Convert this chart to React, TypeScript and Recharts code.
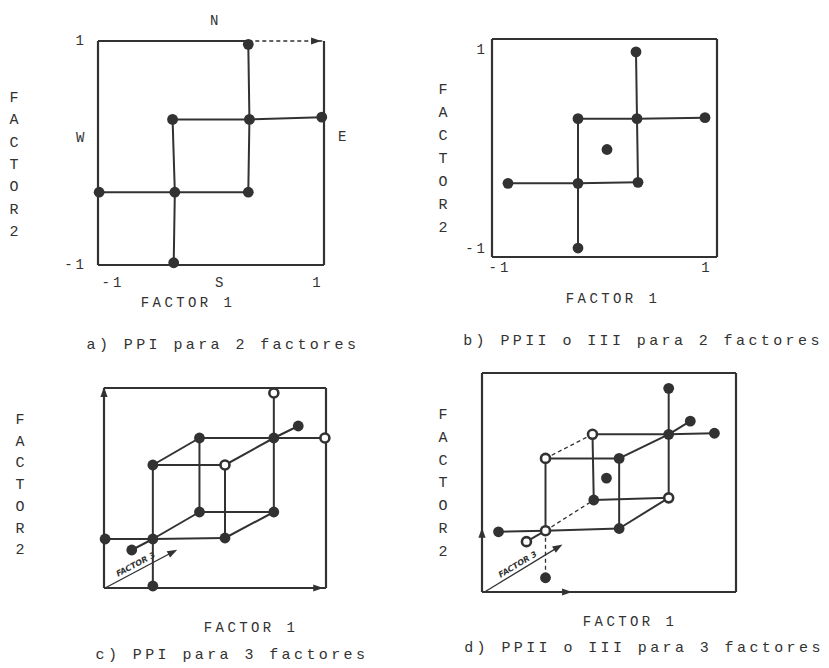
import React from "react";
import { ScatterChart, Scatter, XAxis, YAxis, ReferenceLine } from "recharts";

type XY = [number, number];
type Pair = [number, number];

const INK = "#323232";
const typeFont = '"Liberation Mono", "DejaVu Sans Mono", monospace';

// a) PPI para 2 factores
const designA: XY[] = [
  [0.33, 0.97], [-0.34, 0.3], [0.34, 0.3], [0.98, 0.32],
  [-0.99, -0.35], [-0.32, -0.35], [0.33, -0.35], [-0.33, -0.98],
];
const edgesA: Pair[] = [[5, 6], [6, 2], [2, 1], [1, 5], [4, 5], [5, 7], [2, 0], [2, 3]];
const frameA: { from: XY; to: XY; dash?: boolean }[] = [
  { from: [-1, -1], to: [-1, 1] },
  { from: [-1, 1], to: [0.33, 1] },
  { from: [0.33, 1], to: [1, 1], dash: true },
  { from: [1, 1], to: [1, -1] },
  { from: [1, -1], to: [-1, -1] },
];
const arrowsA = [{ x: 0.93, y: 1, angle: 0 }];
const ticksA = [-1, 1];

// b) PPII o III para 2 factores
const designB: XY[] = [
  [0.29, 0.98], [-0.29, 0.31], [0.3, 0.31], [0.98, 0.32], [0.0, 0.0],
  [-0.99, -0.34], [-0.29, -0.34], [0.31, -0.33], [-0.29, -0.99],
];
const edgesB: Pair[] = [[6, 7], [7, 2], [2, 1], [1, 6], [5, 6], [6, 8], [2, 0], [2, 3]];
const ticksB = [-1, 1];
const xDomainB: XY = [-1.15, 1.1];
const yDomainB: XY = [-1.08, 1.11];

// c) PPI para 3 factores (cubo en perspectiva)
const designC: XY[] = [
  [0.53, 0.95], [-0.14, 0.5], [0.53, 0.5], [0.75, 0.62], [0.99, 0.5],
  [-0.56, 0.23], [0.09, 0.23], [-0.14, -0.24], [0.53, -0.24],
  [-0.99, -0.51], [-0.56, -0.51], [0.09, -0.5], [-0.75, -0.62], [-0.56, -0.98],
];
const openC = [0, 4, 6];
const edgesC: Pair[] = [
  [10, 11], [11, 6], [6, 5], [5, 10],
  [7, 8], [8, 2], [2, 1], [1, 7],
  [5, 1], [6, 2], [11, 8], [10, 7],
  [9, 10], [10, 13], [12, 10], [2, 0], [2, 4], [2, 3],
];
const factor3C: XY[] = [[-0.99, -1], [-0.38, -0.64]];
const arrowsC = [
  { x: -1, y: 0.96, angle: -90 },
  { x: 0.93, y: -1, angle: 0 },
  { x: -0.38, y: -0.64, angle: -28 },
];

// d) PPII o III para 3 factores
const designD: XY[] = [
  [0.47, 0.86], [-0.13, 0.44], [0.47, 0.44], [0.64, 0.56], [0.83, 0.45],
  [-0.5, 0.22], [0.08, 0.22], [-0.12, -0.16], [0.47, -0.14],
  [-0.87, -0.45], [-0.5, -0.44], [0.08, -0.42], [-0.65, -0.54], [-0.5, -0.87],
  [-0.02, 0.04],
];
const openD = [1, 5, 8, 10, 12];
const edgesD: Pair[] = [
  [10, 11], [11, 6], [6, 5], [5, 10],
  [7, 8], [8, 2], [2, 1], [1, 7],
  [6, 2], [11, 8],
  [9, 10], [12, 10], [2, 0], [2, 4], [2, 3],
];
const dashedD: Pair[] = [[5, 1], [10, 7], [10, 13]];
const factor3D: XY[] = [[-0.98, -1], [-0.4, -0.59]];
const arrowsD = [
  { x: -1, y: -0.46, angle: -90 },
  { x: -0.33, y: -1, angle: 0 },
  { x: -0.4, y: -0.59, angle: -31 },
];

const yTitle = ["F", "A", "C", "T", "O", "R", "2"];

type Seg = { from: XY; to: XY; dash?: boolean; width?: number };
type Region = { x: number; y: number; w: number; h: number };
type Box = { l: number; t: number; r: number; b: number };

const AXIS_W = 40;
const AXIS_H = 30;

function boxEdges(xd: XY, yd: XY): Seg[] {
  return [
    { from: [xd[0], yd[0]], to: [xd[0], yd[1]] },
    { from: [xd[0], yd[1]], to: [xd[1], yd[1]] },
    { from: [xd[1], yd[1]], to: [xd[1], yd[0]] },
    { from: [xd[1], yd[0]], to: [xd[0], yd[0]] },
  ];
}

function edgeSegs(pts: XY[], edges: Pair[], dash = false): Seg[] {
  return edges.map(([a, b]) => ({ from: pts[a], to: pts[b], dash, width: dash ? 1.3 : 2 }));
}

const Dot = (p: any) =>
  p.payload.open ? (
    <circle cx={p.cx} cy={p.cy} r={4.5} fill="#fff" stroke={INK} strokeWidth={2.6} />
  ) : (
    <circle cx={p.cx} cy={p.cy} r={5.4} fill={INK} />
  );

const ArrowHead = (p: any) => (
  <polygon
    points="5,0 -5,-3.6 -5,3.6"
    transform={`translate(${p.cx},${p.cy}) rotate(${p.payload.angle})`}
    fill={INK}
  />
);

interface PanelProps {
  region: Region;
  box: Box;
  xDomain: XY;
  yDomain: XY;
  points: XY[];
  open?: number[];
  segs: Seg[];
  arrows?: { x: number; y: number; angle: number }[];
  ticks?: number[];
  xTickDx?: number[];
  xTickMargin?: number;
  yTickMargin?: number;
}

function Panel({ region, box, xDomain, yDomain, points, open = [], segs, arrows = [], ticks, xTickDx = [0, 0], xTickMargin = 8, yTickMargin = 8 }: PanelProps) {
  const withAxes = !!ticks;
  const yw = withAxes ? AXIS_W : 0;
  const xh = withAxes ? AXIS_H : 0;
  const margin = {
    left: box.l - region.x - yw,
    top: box.t - region.y,
    right: region.x + region.w - box.r,
    bottom: region.y + region.h - box.b - xh,
  };
  const data = points.map(([x, y], i) => ({ x, y, open: open.includes(i) }));

  const xTick = (p: any) => (
    <text x={p.x + (xTickDx[p.index] ?? 0)} y={p.y} dy={10} textAnchor="middle" fontFamily={typeFont} fontSize={14} letterSpacing={3} fill={INK}>
      {String(p.payload.value)}
    </text>
  );
  const yTick = (p: any) => (
    <text x={p.x} y={p.y} dy={4} textAnchor="end" fontFamily={typeFont} fontSize={14} letterSpacing={3} fill={INK}>
      {String(p.payload.value)}
    </text>
  );

  return (
    <div style={{ position: "absolute", left: region.x, top: region.y }}>
      <ScatterChart width={region.w} height={region.h} margin={margin}>
        <XAxis
          type="number"
          dataKey="x"
          domain={xDomain}
          ticks={ticks}
          interval={0}
          hide={!withAxes}
          height={AXIS_H}
          axisLine={false}
          tickLine={false}
          tickSize={0}
          tickMargin={xTickMargin}
          tick={xTick}
        />
        <YAxis
          type="number"
          dataKey="y"
          domain={yDomain}
          ticks={ticks}
          interval={0}
          hide={!withAxes}
          width={AXIS_W}
          axisLine={false}
          tickLine={false}
          tickSize={0}
          tickMargin={yTickMargin}
          tick={yTick}
        />
        {segs.map((s, i) => (
          <ReferenceLine
            key={i}
            segment={[{ x: s.from[0], y: s.from[1] }, { x: s.to[0], y: s.to[1] }]}
            stroke={INK}
            strokeWidth={s.width ?? 2}
            strokeDasharray={s.dash ? "4 3" : undefined}
            ifOverflow="visible"
          />
        ))}
        <Scatter data={data} shape={Dot} isAnimationActive={false} />
        <Scatter data={arrows} shape={ArrowHead} isAnimationActive={false} />
      </ScatterChart>
    </div>
  );
}

const Txt = ({ x, y, children, size = 15, spacing = 3.4, rotate = 0, style = {} }: any) => (
  <div
    style={{
      position: "absolute",
      left: x,
      top: y,
      transform: `translate(-50%, -50%) rotate(${rotate}deg)`,
      fontFamily: typeFont,
      fontSize: size,
      letterSpacing: spacing,
      color: INK,
      whiteSpace: "pre",
      lineHeight: 1,
      ...style,
    }}
  >
    {children}
  </div>
);

const VTitle = ({ x, top, step }: { x: number; top: number; step: number }) => (
  <>
    {yTitle.map((c, i) => (
      <Txt key={i} x={x} y={top + i * step} spacing={0}>
        {c}
      </Txt>
    ))}
  </>
);

const hand = { fontFamily: '"DejaVu Sans", sans-serif', fontStyle: "italic", fontWeight: 600 };

export default function App() {
  return (
    <div style={{ position: "absolute", left: 0, top: 0, width: 829, height: 668, background: "#fff", overflow: "hidden" }}>
      <Panel
        region={{ x: 0, y: 0, w: 415, h: 325 }}
        box={{ l: 98, t: 41, r: 324, b: 265 }}
        xDomain={[-1, 1]}
        yDomain={[-1, 1]}
        points={designA}
        segs={[...frameA.map((f) => ({ ...f, width: f.dash ? 1.4 : 2.2 })), ...edgeSegs(designA, edgesA)]}
        arrows={arrowsA}
        ticks={ticksA}
        xTickDx={[15, -6]}
        xTickMargin={12}
        yTickMargin={11}
      />
      <Panel
        region={{ x: 415, y: 0, w: 414, h: 325 }}
        box={{ l: 492, t: 39, r: 717, b: 257 }}
        xDomain={xDomainB}
        yDomain={yDomainB}
        points={designB}
        segs={[...boxEdges(xDomainB, yDomainB).map((s) => ({ ...s, width: 2.2 })), ...edgeSegs(designB, edgesB)]}
        ticks={ticksB}
        xTickDx={[-7, 0]}
        xTickMargin={5}
        yTickMargin={4}
      />
      <Panel
        region={{ x: 0, y: 325, w: 415, h: 343 }}
        box={{ l: 104, t: 388, r: 326, b: 588 }}
        xDomain={[-1, 1]}
        yDomain={[-1, 1]}
        points={designC}
        open={openC}
        segs={[
          ...boxEdges([-1, 1], [-1, 1]).map((s) => ({ ...s, width: 2.2 })),
          ...edgeSegs(designC, edgesC),
          { from: factor3C[0], to: factor3C[1], width: 1.4 },
        ]}
        arrows={arrowsC}
      />
      <Panel
        region={{ x: 415, y: 325, w: 414, h: 343 }}
        box={{ l: 482, t: 373, r: 736, b: 592 }}
        xDomain={[-1, 1]}
        yDomain={[-1, 1]}
        points={designD}
        open={openD}
        segs={[
          ...boxEdges([-1, 1], [-1, 1]).map((s) => ({ ...s, width: 2.2 })),
          ...edgeSegs(designD, edgesD),
          ...edgeSegs(designD, dashedD, true),
          { from: factor3D[0], to: factor3D[1], width: 1.4 },
        ]}
        arrows={arrowsD}
      />

      {/* a) */}
      <Txt x={216} y={21} size={14}>N</Txt>
      <Txt x={82} y={138} size={14}>W</Txt>
      <Txt x={344} y={137} size={14}>E</Txt>
      <Txt x={221} y={283} size={14}>S</Txt>
      <VTitle x={14} top={98} step={22.3} />
      <Txt x={188} y={303} size={14}>FACTOR 1</Txt>
      <Txt x={223} y={345}>a) PPI para 2 factores</Txt>

      {/* b) */}
      <VTitle x={443} top={90} step={23} />
      <Txt x={613} y={299} size={14}>FACTOR 1</Txt>
      <Txt x={643} y={341}>b) PPII o III para 2 factores</Txt>

      {/* c) */}
      <VTitle x={20} top={420} step={21.7} />
      <Txt x={251} y={628} size={14}>FACTOR 1</Txt>
      <Txt x={232} y={655}>c) PPI para 3 factores</Txt>
      <Txt x={136} y={565} size={8} spacing={0} rotate={-28} style={hand}>FACTOR 3</Txt>

      {/* d) */}
      <VTitle x={443} top={415} step={22.8} />
      <Txt x={630} y={622} size={14}>FACTOR 1</Txt>
      <Txt x={644} y={648}>d) PPII o III para 3 factores</Txt>
      <Txt x={518} y={565} size={8} spacing={0} rotate={-31} style={hand}>FACTOR 3</Txt>
    </div>
  );
}
